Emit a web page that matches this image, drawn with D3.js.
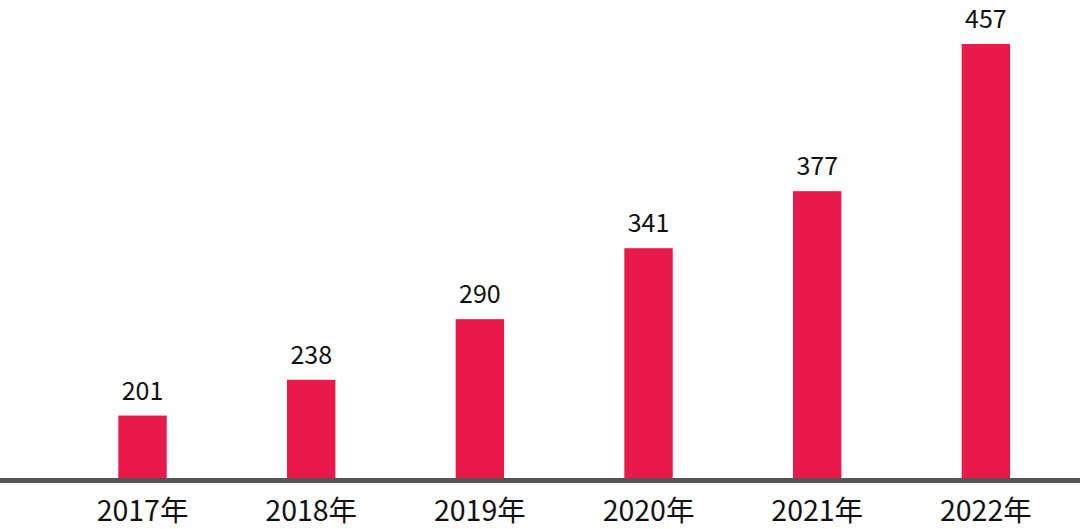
<!DOCTYPE html>
<html><head><meta charset="utf-8">
<script src="https://cdn.jsdelivr.net/npm/d3@7"></script>
<style>html,body{margin:0;padding:0;background:#fff;}svg{display:block;}</style>
</head><body>
<svg id="chart" width="1080" height="529"></svg>
<script>
const categories = ["2017年","2018年","2019年","2020年","2021年","2022年"];
const values = [201, 238, 290, 341, 377, 457];

const W = 1080, H = 529;
const baseY = 478;
const svg = d3.select("#chart");

const x = d3.scaleBand().domain(categories).range([58.2, 1070.2]).paddingInner(0.713).paddingOuter(0.3565);
const y = d3.scalePow().exponent(2).domain([110, 457]).range([baseY, 44]);

svg.selectAll("rect.bar").data(values).enter().append("rect")
  .attr("class","bar")
  .attr("x", (d,i) => x(categories[i]))
  .attr("width", x.bandwidth())
  .attr("y", d => y(d))
  .attr("height", d => baseY - y(d))
  .attr("fill", "#e81a4b");

svg.selectAll("text.val").data(values).enter().append("text")
  .attr("class","val")
  .attr("x", (d,i) => x(categories[i]) + x.bandwidth()/2)
  .attr("y", d => y(d) - 16)
  .attr("text-anchor","middle")
  .attr("font-family","'Noto Sans CJK SC','Noto Sans',sans-serif")
  .attr("font-size", 25)
  .attr("fill","#111")
  .text(d => d);

const axis = d3.axisBottom(x).tickSize(0).tickPadding(20);
const g = svg.append("g").attr("transform", `translate(0,${baseY + 2.5})`).call(axis);
g.select(".domain").remove();
g.append("line").attr("x1",0).attr("x2",W).attr("y1",0).attr("y2",0)
  .attr("stroke","#555").attr("stroke-width",5);
g.selectAll(".tick text")
  .attr("font-family","'Noto Sans CJK SC','Noto Sans',sans-serif")
  .attr("font-size", 28.5)
  .attr("fill","#111");
</script>
</body></html>
